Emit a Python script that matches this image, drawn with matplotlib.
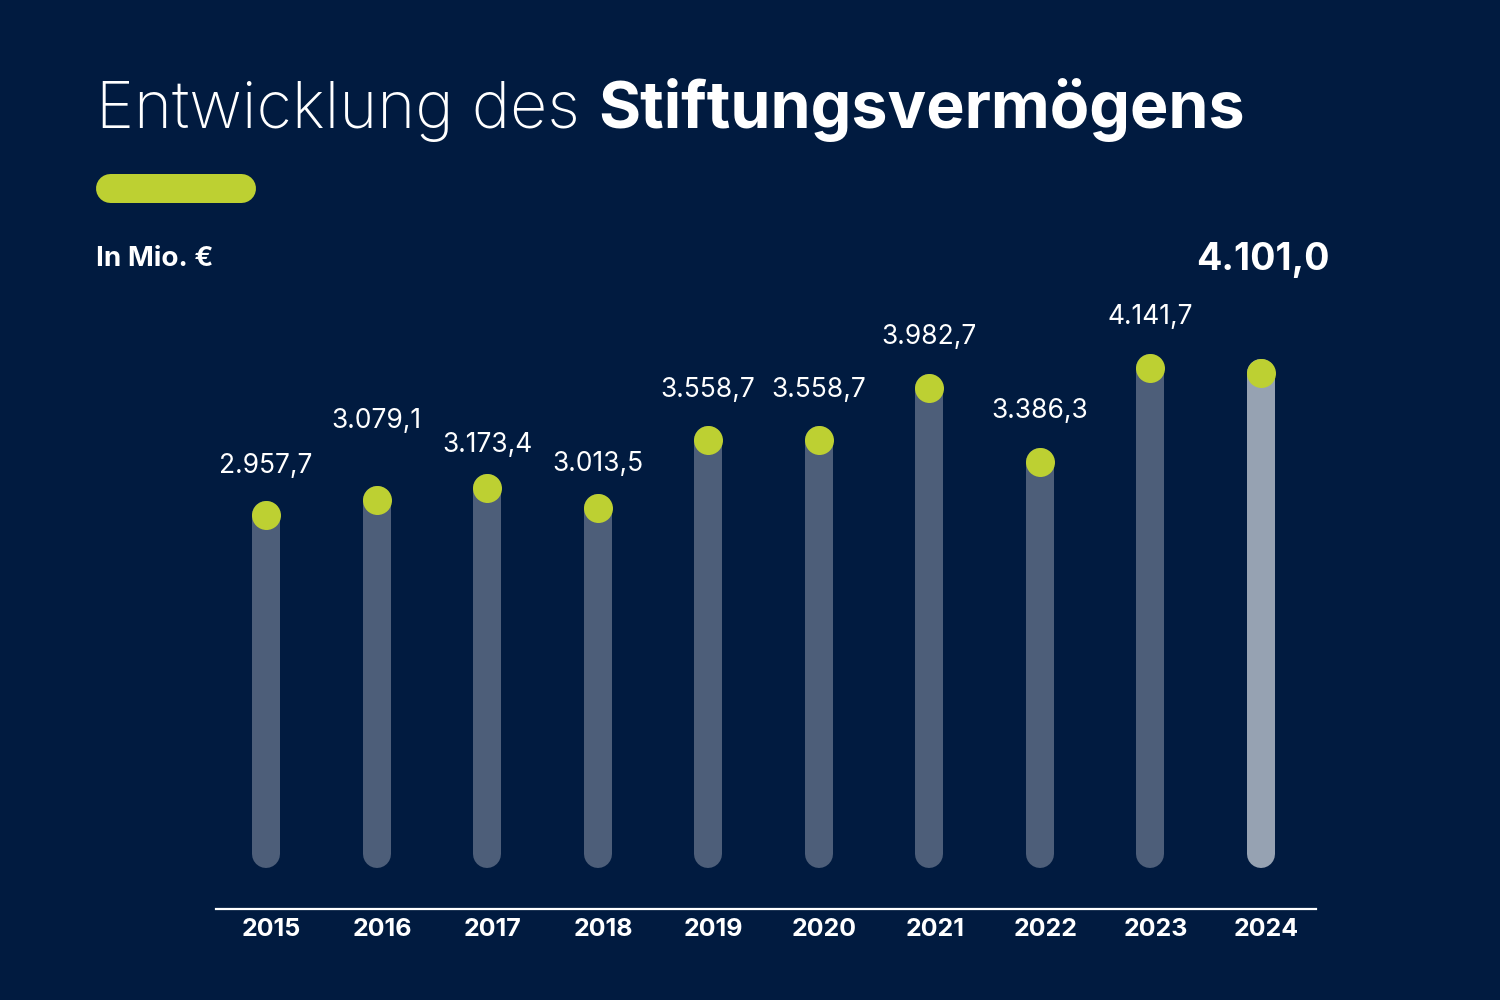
import matplotlib
matplotlib.use("Agg")
import matplotlib.pyplot as plt
from matplotlib.lines import Line2D

years = ["2015", "2016", "2017", "2018", "2019", "2020", "2021", "2022", "2023", "2024"]
values = [2957.7, 3079.1, 3173.4, 3013.5, 3558.7, 3558.7, 3982.7, 3386.3, 4141.7, 4101.0]
labels = ["2.957,7", "3.079,1", "3.173,4", "3.013,5", "3.558,7", "3.558,7",
          "3.982,7", "3.386,3", "4.141,7", "4.101,0"]

BG = "#011b40"
BAR = "#4d5e79"
BAR_LAST = "#96a2b2"
GREEN = "#bdd032"
FONT = "Inter"

# label distance above dot, in pixels (dpi 100)
label_off = [49, 79, 43, 44, 50, 50, 51, 51, 51, 113]

fig = plt.figure(figsize=(15, 10), dpi=100, facecolor=BG)

# title in two weights
t1 = fig.text(0.064, 0.872, "Entwicklung des ", fontsize=46.5, family=FONT,
              weight="light", color="white", va="baseline")
fig.canvas.draw()
bb = t1.get_window_extent()
fig.text(bb.x1 / 1500, 0.872, "Stiftungsvermögens", fontsize=46.5, family=FONT,
         weight="bold", color="white", va="baseline")

# green pill
fig.add_artist(Line2D([109.5 / 1500, 240.5 / 1500], [1 - 187.5 / 1000] * 2,
                      color=GREEN, lw=29 * 0.72, solid_capstyle="round"))

fig.text(0.064, 0.741, "In Mio. €", fontsize=20, family=FONT, weight="bold",
         color="white", va="center")

ax = fig.add_axes([216 / 1500, 0.091, 1100 / 1500, 0.659])
ax.set_facecolor(BG)
ax.set_xlim(-0.452, 9.497)
ax.set_ylim(-217, 5093)
for s in ["left", "right", "top"]:
    ax.spines[s].set_visible(False)
ax.spines["bottom"].set_color("white")
ax.spines["bottom"].set_linewidth(1.6)
ax.set_yticks([])
ax.set_xticks([])

base = 226
for i, v in enumerate(values):
    c = BAR_LAST if i == len(values) - 1 else BAR
    ax.plot([i, i], [base, v], color=c, lw=28 * 0.72, solid_capstyle="round", zorder=2)
    ax.scatter([i], [v], s=(29 * 0.72) ** 2, color=GREEN, zorder=3, linewidths=0)
    if i == len(values) - 1:
        ax.annotate(labels[i], (i, v), xytext=(1, label_off[i] * 0.72),
                    textcoords="offset points", ha="center", va="center",
                    fontsize=27, family=FONT, weight="bold", color="white")
    else:
        ax.annotate(labels[i], (i, v), xytext=(0, label_off[i] * 0.72),
                    textcoords="offset points", ha="center", va="center",
                    fontsize=19, family=FONT, color="white")
    ax.annotate(years[i], (i, 0), xycoords=("data", "axes fraction"),
                xytext=(4, -15), textcoords="offset points", ha="center",
                va="center", fontsize=18, family=FONT, weight="bold", color="white")

fig.savefig("out.png", dpi=100, facecolor=BG)
